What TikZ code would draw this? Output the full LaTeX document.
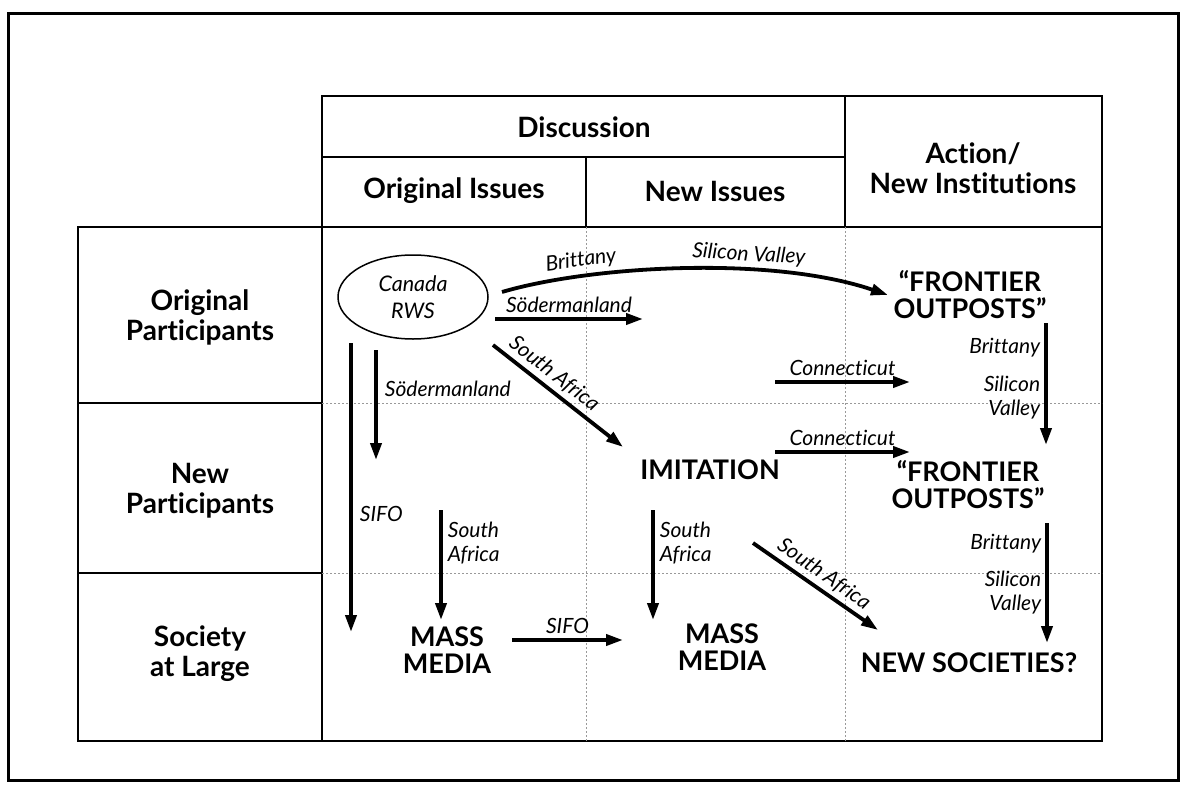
\documentclass[tikz,border=0pt]{standalone}
\usepackage{fontspec}
\setmainfont{Lato}[Ligatures={TeX,NoCommon}]
\usetikzlibrary{arrows.meta,shapes.geometric}

\begin{document}
\begin{tikzpicture}[x=1pt, y=-1pt,
    every node/.style={inner sep=1pt},
    frame/.style={draw=black, line width=3pt},
    grid/.style={draw=black, line width=2pt},
    guide/.style={draw=black!40, line width=0.8pt, dash pattern=on 2pt off 2pt},
    head/.style={font=\fontsize{28}{30}\selectfont\bfseries, align=center, inner sep=0pt},
    stage/.style={font=\fontsize{27}{27}\selectfont\bfseries, align=center, inner sep=0pt},
    lbl/.style={font=\fontsize{21}{24}\selectfont\itshape, inner sep=1pt},
    flow/.style={line width=3.8pt, -{Triangle[length=17pt,width=11pt]}},
    actor/.style={ellipse, draw, line width=1.5pt, minimum width=150pt, minimum height=84pt, align=center, font=\fontsize{21.5}{27}\selectfont\itshape}
  ]
    \useasboundingbox (0,0) rectangle (1186,787);
    \draw[frame] (8,13) rectangle (1178,780);

    % table
    \draw[grid] (322,96) rectangle (1102,227);
    \draw[grid] (322,157) -- (845,157);
    \draw[grid] (845,96) -- (845,227);
    \draw[grid] (586,157) -- (586,227);
    \draw[grid] (78,227) rectangle (322,741);
    \draw[grid] (78,403) -- (322,403);
    \draw[grid] (78,573) -- (322,573);
    \draw[grid] (322,227) rectangle (1102,741);
    \foreach \y in {403,573} {
      \draw[guide] (322,\y) -- (1102,\y);
    }
    \foreach \x in {586,845} {
      \draw[guide] (\x,227) -- (\x,741);
    }

    \node[head] (disc) at (584,127) {Discussion};
    \node[head] (origiss) at (454,191) {Original Issues};
    \node[head] (newiss) at (715,191) {New Issues};
    \node[head] (action) at (973,168) {Action/\\New Institutions};
    \node[head] (origpart) at (200,317) {Original\\Participants};
    \node[head] (newpart) at (200,491) {New\\Participants};
    \node[head] (society) at (200,654) {Society\\at Large};

    \node[actor] (canada) at (413,297) {Canada\\RWS};
    \node[stage] (frontA) at (970,295) {``FRONTIER\\OUTPOSTS''};
    \node[stage] (imitation) at (710,470) {IMITATION};
    \node[stage] (frontB) at (968,485) {``FRONTIER\\OUTPOSTS''};
    \node[stage] (massA) at (447,650) {MASS\\MEDIA};
    \node[stage] (massB) at (722,647) {MASS\\MEDIA};
    \node[stage] (newsoc) at (969,663) {NEW SOCIETIES?};

    \draw[flow] (502,292) .. controls (590,266) and (770,255) .. (888,295)
      node[lbl, pos=.25, above=3pt, sloped] {Brittany}
      node[lbl, pos=.65, above=3pt, sloped] {Silicon Valley};
    \draw[flow] (495,319) -- (643,319) node[lbl, midway, above=3pt] {Södermanland};
    \draw[flow] (493,345) -- (623,447) node[lbl, pos=.4, above=3pt, sloped] {South Africa};
    \draw[flow] (351,343) -- (351,632) node[lbl, pos=.59, right=6pt] {SIFO};
    \draw[flow] (376,350) -- (376,460) node[lbl, pos=.35, right=6pt] {Södermanland};
    \draw[flow] (441,510) -- (441,620) node[lbl, pos=.3, right=4pt, align=left] {South\\Africa};
    \draw[flow] (512,640) -- (623,640) node[lbl, midway, above=3pt] {SIFO};
    \draw[flow] (653,510) -- (653,620) node[lbl, pos=.3, right=4pt, align=left] {South\\Africa};
    \draw[flow] (775,382) -- (910,382) node[lbl, midway, above=3pt] {Connecticut};
    \draw[flow] (775,452) -- (910,452) node[lbl, midway, above=3pt] {Connecticut};
    \draw[flow] (1046,323) -- (1046,445)
      node[lbl, pos=.2, left=3pt] {Brittany}
      node[lbl, pos=.61, left=3pt, align=right] {Silicon\\Valley};
    \draw[flow] (1047,523) -- (1047,643)
      node[lbl, pos=.17, left=3pt] {Brittany}
      node[lbl, pos=.58, left=3pt, align=right] {Silicon\\Valley};
    \draw[flow] (753,543) -- (878,630) node[lbl, pos=.5, above=3pt, sloped] {South Africa};
  \end{tikzpicture}
\end{document}
